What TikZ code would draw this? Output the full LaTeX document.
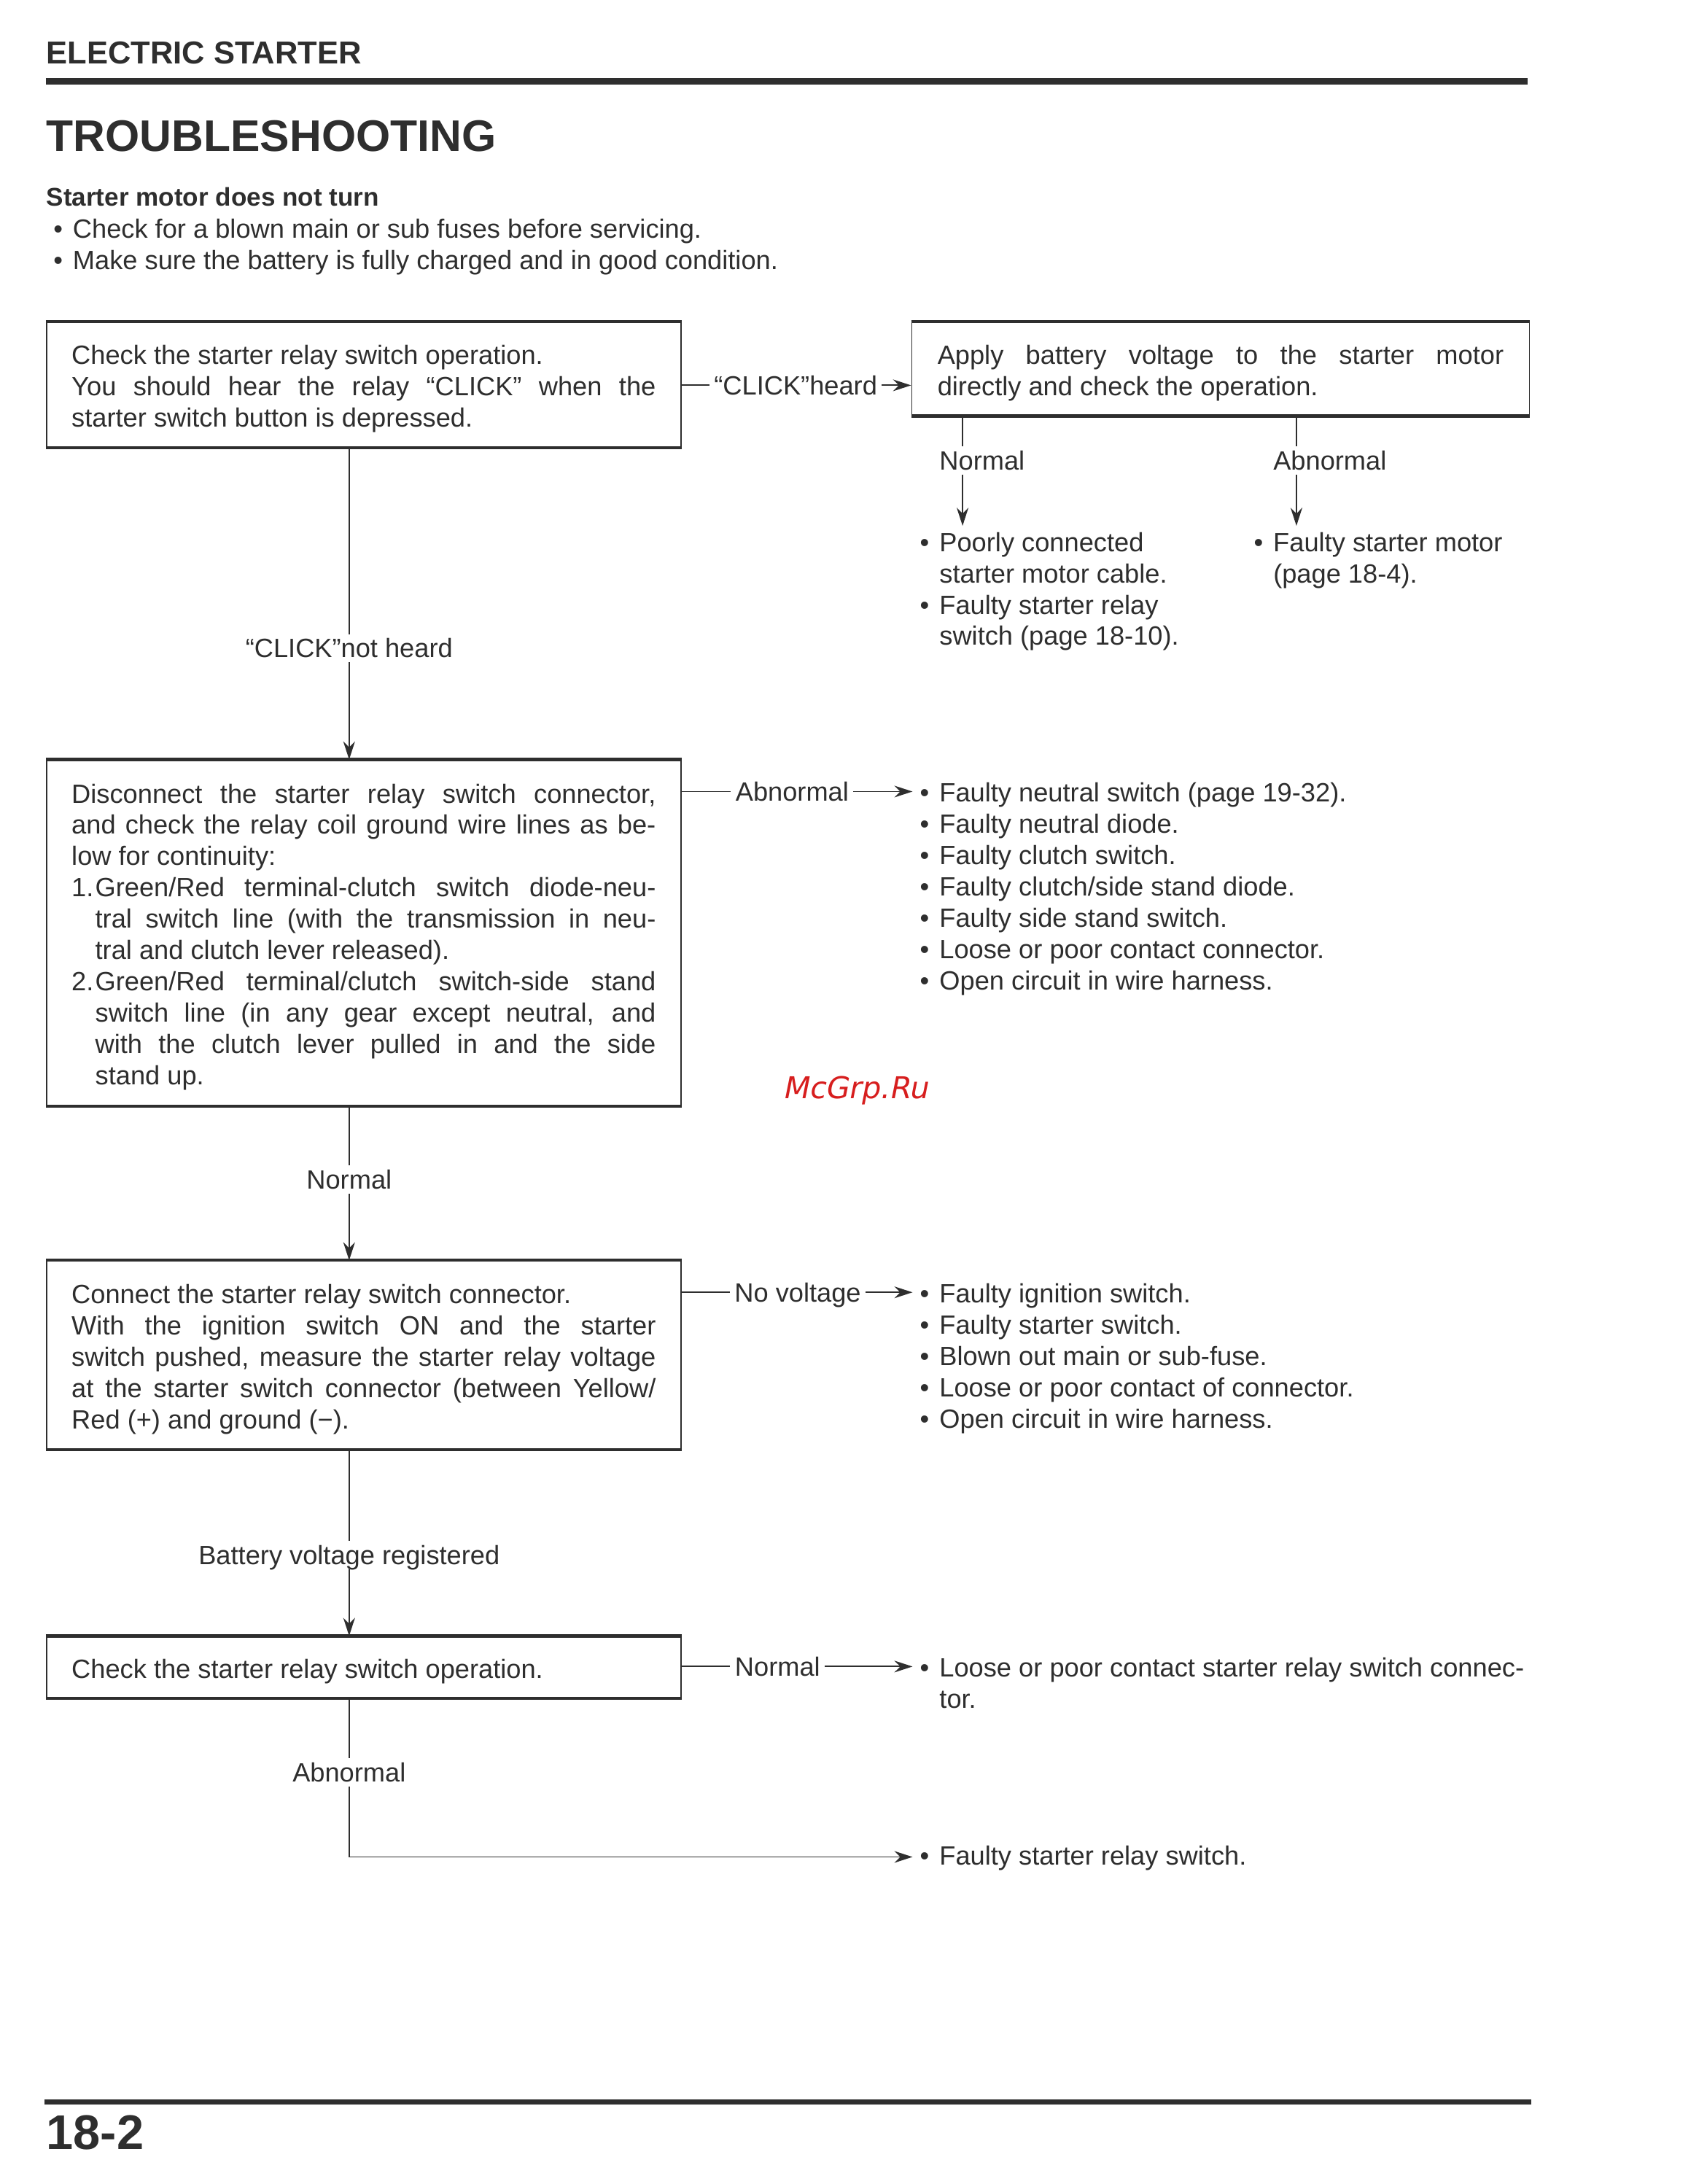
\documentclass[tikz,border=0pt]{standalone}
\usepackage{fontspec}
\setmainfont{Liberation Sans}
\newfontfamily\wmfont[FakeSlant=0.2]{DejaVu Sans}
\usetikzlibrary{arrows.meta}
\definecolor{ink}{HTML}{2E2E2E}
\definecolor{wmred}{RGB}{215,30,30}
\setlength{\parindent}{0pt}
\hyphenpenalty=10000
\exhyphenpenalty=10000
\tolerance=10000
\newcommand{\boxfont}{\fontsize{9.5}{11.25}\selectfont}
\newcommand{\bitem}[1]{\makebox[7pt][l]{\textbullet}#1}
\newcommand{\bcont}[1]{\hspace*{7pt}#1}
\newcommand{\numitem}[1]{\makebox[8.5pt][l]{#1}}
\newcommand{\topstrut}{\rule{0pt}{7.5pt}}
\newcommand{\boxstrut}{\rule{0pt}{9.9pt}}
\begin{document}
\begin{tikzpicture}[x=0.5pt,y=-0.5pt,
  every node/.style={text=ink},
  box/.style={draw=ink, line width=0.5pt, anchor=north west, inner xsep=9pt, inner ysep=0pt, align=justify, font=\boxfont},
  edge/.style={draw=ink, line width=1.1pt},
  lbl/.style={inner sep=1.5pt, font=\boxfont, text height=6.8pt, text depth=0pt},
  lst/.style={anchor=north west, inner sep=0pt, align=left, font=\boxfont},
  conn/.style={draw=ink, line width=0.5pt},
  arr/.style={conn, -{Stealth[length=6.5pt,width=4.2pt]}},
  rule/.style={draw=ink}
]
\useasboundingbox[fill=white] (0,0) rectangle (1227,1570);

% header
\node[anchor=base west, inner sep=0pt, font=\fontsize{11.4}{13}\selectfont\bfseries] (hdr) at (33,46) {ELECTRIC STARTER};
\draw[rule, line width=2.2pt] (33,58.5) -- (1098,58.5);
\node[anchor=base west, inner sep=0pt, font=\fontsize{15.9}{18}\selectfont\bfseries] (title) at (33,109) {TROUBLESHOOTING};
\node[anchor=base west, inner sep=0pt, font=\fontsize{9.2}{11}\selectfont\bfseries] (sub) at (33,148) {Starter motor does not turn};
\node[lst] (pre) at (38,156) {\topstrut\bitem{Check for a blown main or sub fuses before servicing.}\\
\bitem{Make sure the battery is fully charged and in good condition.}};

% boxes
\node[box, text width=210pt, minimum width=228pt, minimum height=45pt] (b1) at (33,231)
{\boxstrut Check the starter relay switch operation.\\
You should hear the relay “CLICK” when the\linebreak starter switch button is depressed.};
\node[box, text width=203.5pt, inner xsep=9.25pt, minimum width=222pt, minimum height=33.5pt] (b2) at (655,231)
{\boxstrut Apply battery voltage to the starter motor\linebreak directly and check the operation.};
\node[box, text width=210pt, minimum width=228pt, minimum height=124pt] (b3) at (33,546)
{\boxstrut Disconnect the starter relay switch connector,\linebreak and check the relay coil ground wire lines as be-\linebreak low for continuity:\par
\hangindent=8.5pt\hangafter=1 \numitem{1.}Green/Red terminal-clutch switch diode-neu-\linebreak tral switch line (with the transmission in neu-\linebreak tral and clutch lever released).\par
\hangindent=8.5pt\hangafter=1 \numitem{2.}Green/Red terminal/clutch switch-side stand\linebreak switch line (in any gear except neutral, and\linebreak with the clutch lever pulled in and the side\linebreak stand up.\par};
\node[box, text width=210pt, minimum width=228pt, minimum height=67.5pt] (b4) at (33,906)
{\boxstrut Connect the starter relay switch connector.\\
With the ignition switch ON and the starter\linebreak switch pushed, measure the starter relay voltage\linebreak at the starter switch connector (between Yellow/\linebreak Red (+) and ground (−).};
\node[box, text width=210pt, minimum width=228pt, minimum height=22pt] (b5) at (33,1176)
{\boxstrut Check the starter relay switch operation.};

\foreach \b in {b1,b2,b3,b4,b5}{
  \draw[edge] (\b.north west) -- (\b.north east);
  \draw[edge] (\b.south west) -- (\b.south east);
}

% result lists (north = first baseline - 15)
\node[lst] (l1) at (661,381) {\topstrut\bitem{Poorly connected}\\ \bcont{starter motor cable.}\\ \bitem{Faulty starter relay}\\ \bcont{switch (page 18-10).}};
\node[lst] (l2) at (901,381) {\topstrut\bitem{Faulty starter motor}\\ \bcont{(page 18-4).}};
\node[lst] (l3) at (661,561) {\topstrut\bitem{Faulty neutral switch (page 19-32).}\\
\bitem{Faulty neutral diode.}\\
\bitem{Faulty clutch switch.}\\
\bitem{Faulty clutch/side stand diode.}\\
\bitem{Faulty side stand switch.}\\
\bitem{Loose or poor contact connector.}\\
\bitem{Open circuit in wire harness.}};
\node[lst] (l4) at (661,921) {\topstrut\bitem{Faulty ignition switch.}\\
\bitem{Faulty starter switch.}\\
\bitem{Blown out main or sub-fuse.}\\
\bitem{Loose or poor contact of connector.}\\
\bitem{Open circuit in wire harness.}};
\node[lst] (l5) at (661,1190) {\topstrut\bitem{Loose or poor contact starter relay switch connec-}\\ \bcont{tor.}};
\node[lst] (l6) at (661,1325) {\topstrut\bitem{Faulty starter relay switch.}};

% labels
\node[lbl] (ch) at (572,277) {“CLICK”heard};
\node[lbl, anchor=west] (nb2) at (672,331) {Normal};
\node[lbl, anchor=west] (ab2) at (912,331) {Abnormal};
\node[lbl] (nh) at (251,466) {“CLICK”not heard};
\node[lbl] (ab3) at (569.5,569) {Abnormal};
\node[lbl] (n3) at (251,848) {Normal};
\node[lbl] (nv) at (573.5,929) {No voltage};
\node[lbl] (bv) at (251,1118) {Battery voltage registered};
\node[lbl] (n5) at (559,1198) {Normal};
\node[lbl] (ab5) at (251,1274) {Abnormal};

% connectors
\coordinate (vx) at (251,0);
\coordinate (nx) at (692,0);
\coordinate (ax) at (932,0);

\draw[conn] (ch.west -| b1.east) -- (ch.west);
\draw[arr] (ch.east) -- (ch.east -| b2.west);

\draw[conn] (nx |- b2.south) -- (nx |- nb2.north);
\draw[arr, shorten >=1.5pt] (nx |- nb2.south) -- (nx |- l1.north);
\draw[conn] (ax |- b2.south) -- (ax |- ab2.north);
\draw[arr, shorten >=1.5pt] (ax |- ab2.south) -- (ax |- l2.north);

\draw[conn] (vx |- b1.south) -- (nh.north);
\draw[arr] (nh.south) -- (vx |- b3.north);

\draw[conn] (ab3.west -| b3.east) -- (ab3.west);
\draw[arr, shorten >=2.5pt] (ab3.east) -- (ab3.east -| l3.west);

\draw[conn] (vx |- b3.south) -- (n3.north);
\draw[arr] (n3.south) -- (vx |- b4.north);

\draw[conn] (nv.west -| b4.east) -- (nv.west);
\draw[arr, shorten >=2.5pt] (nv.east) -- (nv.east -| l4.west);

\draw[conn] (vx |- b4.south) -- (bv.north);
\draw[arr] (bv.south) -- (vx |- b5.north);

\draw[conn] (n5.west -| b5.east) -- (n5.west);
\draw[arr, shorten >=2.5pt] (n5.east) -- (n5.east -| l5.west);

\draw[conn] (vx |- b5.south) -- (ab5.north);
\draw[arr, shorten >=2.5pt] (ab5.south) |- (l6.west);

% watermark
\node[font=\wmfont\fontsize{10.8}{12}\selectfont, text=wmred] (wm) at (615,784) {McGrp.Ru};

% footer
\draw[rule, line width=1.8pt] (32,1511) -- (1101,1511);
\node[anchor=base west, inner sep=0pt, font=\fontsize{17.5}{20}\selectfont\bfseries] (pg) at (33,1545) {18-2};
\end{tikzpicture}
\end{document}
